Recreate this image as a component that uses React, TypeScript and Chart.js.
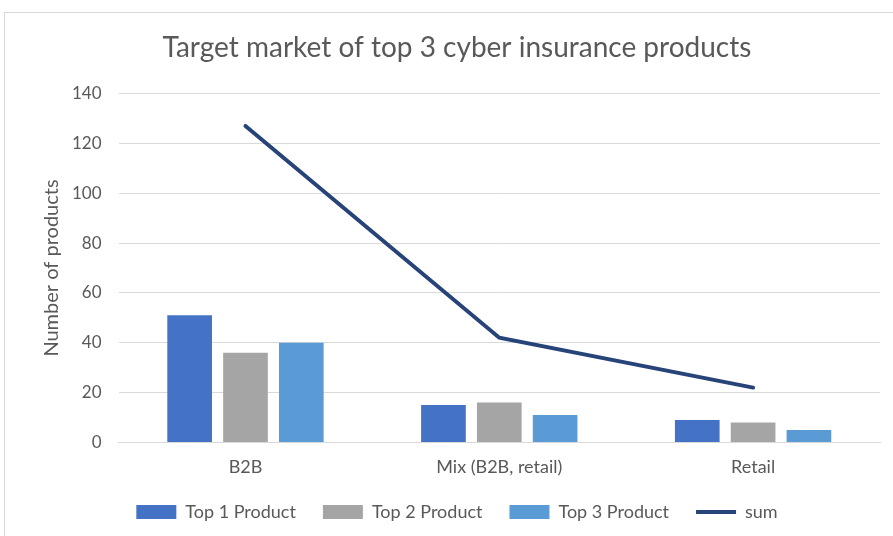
import React, { useEffect, useRef } from "react";
import { Chart, registerables } from "chart.js";

Chart.register(...registerables);

const categories = ["B2B", "Mix (B2B, retail)", "Retail"];
const top1 = [51, 15, 9];
const top2 = [36, 16, 8];
const top3 = [40, 11, 5];
const sum = [127, 42, 22];
const seriesNames = ["Top 1 Product", "Top 2 Product", "Top 3 Product", "sum"];

const TEXT = "#595959";
const FONT = "Lato, 'Open Sans', sans-serif";

export default function App() {
  const ref = useRef<HTMLCanvasElement | null>(null);

  useEffect(() => {
    document.body.style.overflow = "hidden";
    const ctx = ref.current!;
    const chart = new Chart(ctx, {
      type: "bar",
      data: {
        labels: categories,
        datasets: [
          {
            type: "line",
            label: seriesNames[3],
            data: sum,
            borderColor: "#264478",
            backgroundColor: "#264478",
            borderWidth: 4,
            pointRadius: 0,
            borderCapStyle: "round",
            tension: 0,
            order: 0,
          } as any,
          { label: seriesNames[0], data: top1, backgroundColor: "#4472C4", order: 1, barPercentage: 0.8, categoryPercentage: 0.66 },
          { label: seriesNames[1], data: top2, backgroundColor: "#A5A5A5", order: 1, barPercentage: 0.8, categoryPercentage: 0.66 },
          { label: seriesNames[2], data: top3, backgroundColor: "#5B9BD5", order: 1, barPercentage: 0.8, categoryPercentage: 0.66 },
        ],
      },
      options: {
        responsive: false,
        animation: false,
        layout: { padding: { left: 29, right: 27, bottom: 5, top: 0 } },
        plugins: {
          title: {
            display: true,
            text: "Target market of top 3 cyber insurance products",
            color: TEXT,
            font: { family: FONT, size: 28, weight: "normal" },
            padding: { top: 18, bottom: 29 },
          },
          legend: {
            position: "bottom",
            labels: {
              usePointStyle: true,
              pointStyleWidth: 40,
              boxHeight: 14,
              padding: 27,
              color: TEXT,
              font: { family: FONT, size: 18 },
              generateLabels: (c: any) => {
                const order = [1, 2, 3, 0];
                return order.map((i) => {
                  const ds = c.data.datasets[i];
                  const isLine = i === 0;
                  return {
                    text: ds.label,
                    fillStyle: ds.backgroundColor,
                    strokeStyle: isLine ? ds.borderColor : ds.backgroundColor,
                    lineWidth: isLine ? 4 : 0,
                    pointStyle: isLine ? "line" : "rect",
                    datasetIndex: i,
                    hidden: false,
                    fontColor: TEXT,
                  };
                });
              },
            },
          },
          tooltip: { enabled: false },
        },
        scales: {
          x: {
            grid: { display: false, drawTicks: false },
            border: { display: true, color: "#d9d9d9", width: 1 },
            ticks: { color: TEXT, font: { family: FONT, size: 18 }, padding: 14 },
            afterFit: (scale: any) => {
              scale.height -= 16;
            },
          },
          y: {
            min: 0,
            max: 140,
            ticks: { stepSize: 20, color: TEXT, font: { family: FONT, size: 17 }, padding: 17 },
            grid: { color: "#d9d9d9", drawTicks: false, lineWidth: 1 },
            border: { display: false },
            title: {
              display: true,
              text: "Number of products",
              color: TEXT,
              font: { family: FONT, size: 20, lineHeight: 1 },
              padding: { top: 8, bottom: -2 },
            },
            afterFit: (scale: any) => {
              scale.width -= 5;
            },
          },
        },
      },
    });
    return () => chart.destroy();
  }, []);

  return (
    <div style={{ position: "fixed", left: 0, top: 0, width: 893, height: 536, overflow: "hidden", background: "#fff" }}>
      <div
        style={{
          position: "absolute",
          left: 4,
          top: 12,
          width: 920,
          height: 540,
          border: "1px solid #d9d9d9",
          boxSizing: "border-box",
        }}
      >
        <canvas ref={ref} width={902} height={523} style={{ position: "absolute", left: 0, top: 0 }} />
      </div>
    </div>
  );
}
